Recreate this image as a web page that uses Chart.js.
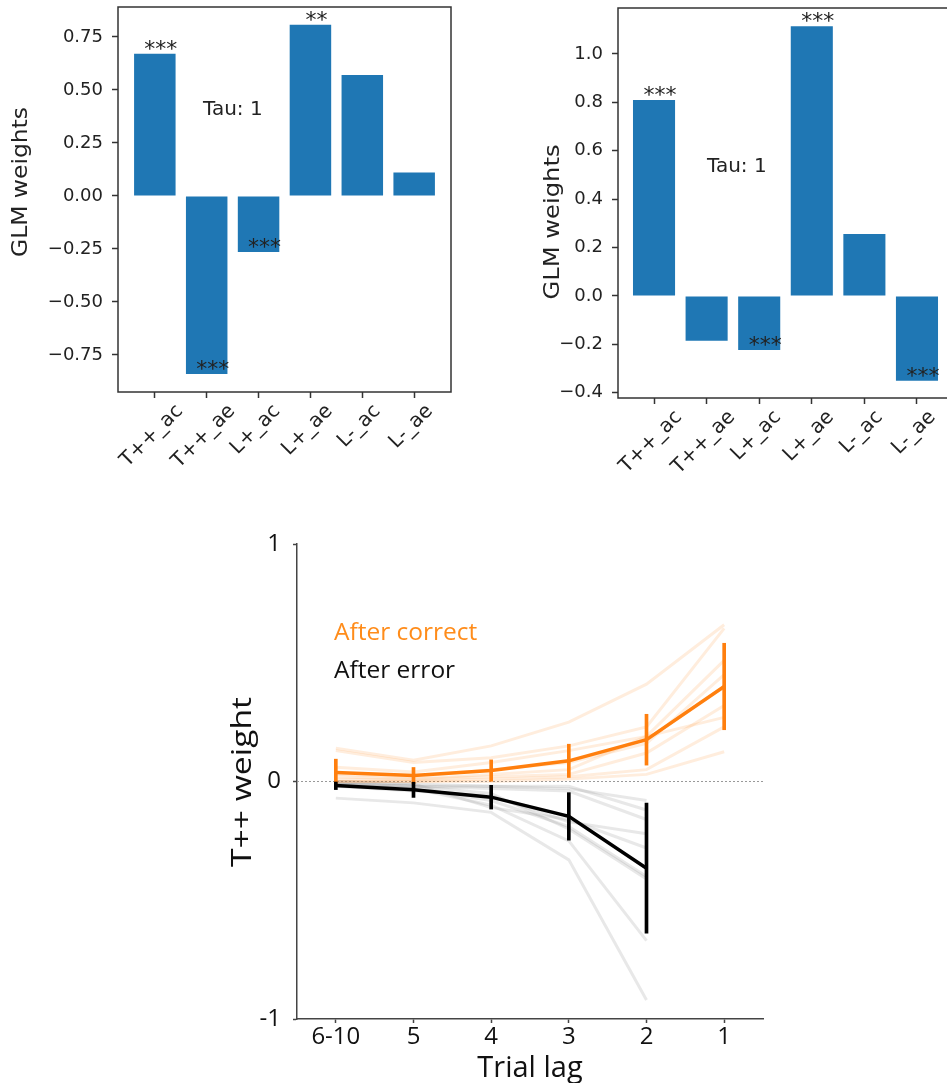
<!DOCTYPE html>
<html>
<head>
<meta charset="utf-8">
<script src="https://cdn.jsdelivr.net/npm/chart.js@4.4.0/dist/chart.umd.min.js"></script>
<style>
html,body{margin:0;padding:0;background:#fff;overflow:hidden;width:947px;height:1083px;position:relative}
.box{position:absolute}
</style>
</head>
<body>
<div class="box" style="left:0;top:0"><canvas id="glmA" width="470" height="480"></canvas></div>
<div class="box" style="left:470px;top:0"><canvas id="glmB" width="520" height="520"></canvas></div>
<div class="box" style="left:200px;top:520px"><canvas id="lag" width="747" height="563"></canvas></div>
<script>
// top panels: GLM weights per regressor
var regressors = ['T++_ac', 'T++_ae', 'L+_ac', 'L+_ae', 'L-_ac', 'L-_ae'];
var weightsA = [0.67, -0.84, -0.265, 0.807, 0.57, 0.11];
var starsA = ['***', '***', '***', '**', '', ''];
var yTicksA = [-0.75, -0.5, -0.25, 0, 0.25, 0.5, 0.75];
var weightsB = [0.81, -0.185, -0.223, 1.115, 0.256, -0.35];
var starsB = ['***', '', '***', '***', '', '***'];
var yTicksB = [-0.4, -0.2, 0, 0.2, 0.4, 0.6, 0.8, 1.0];

// bottom panel: T++ weight by trial lag
var lagLabels = ['6-10', '5', '4', '3', '2', '1'];
var lagTicks = [-1, 0, 1];
var correctMean = [0.038, 0.025, 0.046, 0.087, 0.176, 0.40];
var correctSem = [0.056, 0.034, 0.045, 0.07, 0.107, 0.182];
var errorMean = [-0.017, -0.035, -0.066, -0.147, -0.365];
var errorSem = [0.017, 0.032, 0.05, 0.10, 0.274];
var correctSubjects = [
  [0.14, 0.09, 0.15, 0.25, 0.41, 0.66],
  [0.13, 0.08, 0.10, 0.15, 0.23, 0.645],
  [0.06, 0.04, 0.08, 0.13, 0.19, 0.51],
  [0.03, 0.02, 0.05, 0.08, 0.16, 0.45],
  [0.02, 0.01, 0.03, 0.05, 0.19, 0.27],
  [0.01, 0.01, 0.02, 0.03, 0.12, 0.32],
  [0.0, 0.0, 0.01, 0.02, 0.05, 0.23],
  [0.0, 0.0, 0.0, 0.01, 0.03, 0.125]
];
var errorSubjects = [
  [-0.07, -0.09, -0.13, -0.33, -0.92],
  [-0.01, -0.03, -0.10, -0.25, -0.67],
  [-0.01, -0.02, -0.05, -0.20, -0.41],
  [-0.02, -0.03, -0.08, -0.19, -0.40],
  [0.0, -0.01, -0.11, -0.16, -0.28],
  [-0.02, -0.04, -0.06, -0.17, -0.22],
  [-0.01, -0.02, -0.03, -0.04, -0.16],
  [0.0, -0.01, -0.02, -0.02, -0.12],
  [-0.01, -0.02, -0.02, -0.03, -0.08]
];

var mpl = 'DejaVu Sans';
var sans = 'Open Sans';
var spine = '#333';

// vertical axis title, stretched along its length to a given pixel span
function vLabel(c, text, font, cx, cy, len) {
  c.save();
  c.font = font;
  var w = c.measureText(text).width;
  c.translate(cx, cy);
  c.rotate(-Math.PI / 2);
  c.scale(len / w, 1);
  c.textAlign = 'center';
  c.textBaseline = 'middle';
  c.fillText(text, 0, 0);
  c.restore();
}

function glmChart(id, weights, stars, yTicks, digits, box) {
  var ax = {
    id: 'ax' + id,
    afterDatasetsDraw: function (chart) {
      var a = chart.chartArea, c = chart.ctx;
      c.save();
      c.strokeStyle = spine;
      c.lineWidth = 1.5;
      c.strokeRect(a.left, a.top, a.right - a.left, a.bottom - a.top);
      c.restore();
    },
    afterDraw: function (chart) {
      var c = chart.ctx, xs = chart.scales.x, ys = chart.scales.y, a = chart.chartArea;
      c.save();
      c.fillStyle = '#222';
      // significance stars
      c.font = '22px "' + mpl + '"';
      c.textAlign = 'center';
      c.textBaseline = 'alphabetic';
      stars.forEach(function (s, i) {
        if (!s) return;
        c.fillText(s, xs.getPixelForValue(i) + 6, ys.getPixelForValue(weights[i]) + 2);
      });
      // annotation
      c.font = '20px "' + mpl + '"';
      c.textAlign = 'left';
      c.fillText('Tau: 1', box.tau[0], box.tau[1]);
      // rotated category labels
      regressors.forEach(function (lab, i) {
        var w = c.measureText(lab).width;
        var bh = (w + 20) * Math.SQRT1_2;
        var cx = xs.getPixelForValue(i) - 3;
        var cy = a.bottom + 9 + bh / 2;
        c.save();
        c.translate(cx, cy);
        c.rotate(-Math.PI / 4);
        c.textAlign = 'center';
        c.textBaseline = 'middle';
        c.fillText(lab, 0, 0);
        c.restore();
      });
      vLabel(c, 'GLM weights', '21px "' + mpl + '"', box.ylab[0], box.ylab[1], box.ylab[2]);
      c.restore();
    }
  };

  return new Chart(document.getElementById(id), {
    type: 'bar',
    data: {
      datasets: [{
        data: weights.map(function (v, i) { return {x: i, y: v}; }),
        backgroundColor: '#1f77b4',
        borderWidth: 0,
        categoryPercentage: 1,
        barPercentage: 0.8
      }]
    },
    options: {
      responsive: false,
      animation: false,
      devicePixelRatio: 1,
      layout: {padding: {top: box.top, right: box.right, left: 0, bottom: 0}},
      plugins: {legend: {display: false}, tooltip: {enabled: false}},
      scales: {
        x: {
          type: 'linear',
          offset: false,
          min: box.xmin,
          max: box.xmax,
          afterBuildTicks: function (s) { s.ticks = regressors.map(function (_, i) { return {value: i}; }); },
          ticks: {display: false},
          grid: {offset: false, drawOnChartArea: false, drawTicks: true, tickLength: 6, tickColor: spine, tickWidth: 1.5},
          border: {display: false},
          afterFit: function (s) { s.height = box.xh; s.paddingLeft = 0; s.paddingRight = 0; }
        },
        y: {
          min: box.ymin,
          max: box.ymax,
          afterBuildTicks: function (s) { s.ticks = yTicks.map(function (v) { return {value: v}; }); },
          ticks: {
            font: {family: mpl, size: 18},
            color: '#222',
            padding: 9,
            callback: function (v) { return (v < 0 ? '\u2212' : '') + Math.abs(v).toFixed(digits); }
          },
          grid: {drawOnChartArea: false, drawTicks: true, tickLength: 6, tickColor: spine, tickWidth: 1.5},
          border: {display: false},
          afterFit: function (s) { s.width = box.yw; s.paddingTop = 0; s.paddingBottom = 0; }
        }
      }
    },
    plugins: [ax]
  });
}

glmChart('glmA', weightsA, starsA, yTicksA, 2, {
  top: 7, right: 19, yw: 118, xh: 88,
  xmin: -0.71, xmax: 5.71, ymin: -0.925, ymax: 0.891,
  tau: [203, 115], ylab: [22, 182, 150]
});

glmChart('glmB', weightsB, starsB, yTicksB, 1, {
  top: 8, right: 37, yw: 148, xh: 122,
  xmin: -0.685, xmax: 5.685, ymin: -0.4215, ymax: 1.19,
  tau: [237, 172], ylab: [84, 222, 155]
});

// bottom panel
var lagDatasets = [];
correctSubjects.forEach(function (row) {
  lagDatasets.push({
    type: 'line',
    data: row.map(function (v, i) { return {x: i, y: v}; }),
    borderColor: 'rgba(255,127,14,0.14)',
    borderWidth: 3,
    pointRadius: 0,
    order: 10
  });
});
errorSubjects.forEach(function (row) {
  lagDatasets.push({
    type: 'line',
    data: row.map(function (v, i) { return {x: i, y: v}; }),
    borderColor: 'rgba(140,140,140,0.2)',
    borderWidth: 3,
    pointRadius: 0,
    order: 10
  });
});
lagDatasets.push({
  type: 'bar',
  data: correctMean.map(function (m, i) { return {x: i, y: [m - correctSem[i], m + correctSem[i]]}; }),
  backgroundColor: '#ff7f0e',
  barThickness: 3,
  grouped: false,
  order: 3
});
lagDatasets.push({
  type: 'bar',
  data: errorMean.map(function (m, i) { return {x: i, y: [m - errorSem[i], m + errorSem[i]]}; }),
  backgroundColor: '#000',
  barThickness: 3,
  grouped: false,
  order: 2
});
lagDatasets.push({
  type: 'line',
  data: correctMean.map(function (v, i) { return {x: i, y: v}; }),
  borderColor: '#ff7f0e',
  borderWidth: 3.5,
  pointRadius: 0,
  order: 1
});
lagDatasets.push({
  type: 'line',
  data: errorMean.map(function (v, i) { return {x: i, y: v}; }),
  borderColor: '#000',
  borderWidth: 3.5,
  pointRadius: 0,
  order: 0
});

var lagDecor = {
  id: 'lagDecor',
  beforeDatasetsDraw: function (chart) {
    var c = chart.ctx, a = chart.chartArea, y0 = chart.scales.y.getPixelForValue(0);
    c.save();
    c.strokeStyle = '#999';
    c.lineWidth = 1;
    c.setLineDash([2, 2]);
    c.beginPath();
    c.moveTo(a.left, y0);
    c.lineTo(a.right, y0);
    c.stroke();
    c.restore();
  },
  afterDraw: function (chart) {
    var c = chart.ctx, a = chart.chartArea;
    c.save();
    c.font = '24.5px "' + sans + '"';
    c.textAlign = 'left';
    c.textBaseline = 'alphabetic';
    c.fillStyle = '#ff8c1a';
    c.fillText('After correct', 134, 120);
    c.fillStyle = '#111';
    c.fillText('After error', 134, 158);
    c.font = '29px "' + sans + '"';
    c.textAlign = 'center';
    c.fillText('Trial lag', (a.left + a.right) / 2, 557);
    vLabel(c, 'T++ weight', '28px "' + sans + '"', 43, 262, 170);
    c.restore();
  }
};

new Chart(document.getElementById('lag'), {
  type: 'line',
  data: {datasets: lagDatasets},
  options: {
    responsive: false,
    animation: false,
    devicePixelRatio: 1,
    layout: {padding: {top: 24, right: 184, left: 0, bottom: 0}},
    plugins: {legend: {display: false}, tooltip: {enabled: false}},
    scales: {
      x: {
        type: 'linear',
        offset: false,
        min: -0.5,
        max: 5.5,
        afterBuildTicks: function (s) { s.ticks = lagLabels.map(function (_, i) { return {value: i}; }); },
        ticks: {
          font: {family: sans, size: 24},
          color: '#111',
          padding: 0,
          maxRotation: 0,
          minRotation: 0,
          autoSkip: false,
          callback: function (v) { return lagLabels[v]; }
        },
        grid: {offset: false, drawOnChartArea: false, drawTicks: true, tickLength: 4, tickColor: '#444', tickWidth: 1.5},
        border: {color: '#444', width: 1.5},
        afterFit: function (s) { s.height = 64; s.paddingLeft = 0; s.paddingRight = 0; }
      },
      y: {
        min: -1,
        max: 1,
        afterBuildTicks: function (s) { s.ticks = lagTicks.map(function (v) { return {value: v}; }); },
        ticks: {
          font: {family: sans, size: 24},
          color: '#111',
          padding: 12,
          callback: function (v) { return String(v); }
        },
        grid: {drawOnChartArea: false, drawTicks: true, tickLength: 4, tickColor: '#444', tickWidth: 1.5},
        border: {color: '#444', width: 1.5},
        afterFit: function (s) { s.width = 97; s.paddingTop = 0; s.paddingBottom = 0; }
      }
    }
  },
  plugins: [lagDecor]
});
</script>
</body>
</html>
